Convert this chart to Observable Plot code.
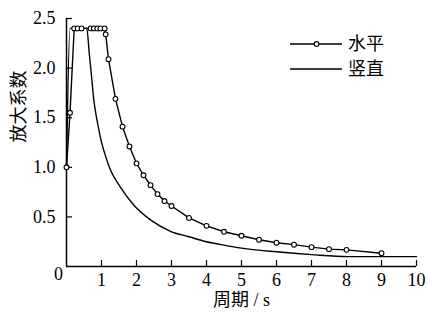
<!DOCTYPE html>
<html><head><meta charset="utf-8">
<script src="https://cdn.jsdelivr.net/npm/d3@7"></script>
<script src="https://cdn.jsdelivr.net/npm/@observablehq/plot@0.6"></script>
<style>
body{margin:0;background:#fff}
#wrap{position:relative;width:428px;height:317px}
#legend{position:absolute;left:286px;top:30px}
#wrap svg, #wrap svg g, #wrap svg text {
  font-family: "Liberation Serif", "Noto Sans CJK SC", serif !important;
  font-size: 18px !important;
}
</style>
</head><body><div id="wrap"><div id="legend"></div></div>
<script>
// 水平 (horizontal) series: period (s) and amplification factor
const horizT = [0, 0.1, 0.22, 0.32, 0.43, 0.69, 0.78, 0.88, 0.97, 1.09, 1.12, 1.2, 1.4, 1.6, 1.8, 2.0, 2.2, 2.4, 2.6, 2.8, 3.0, 3.5, 4.0, 4.5, 5.0, 5.5, 6.0, 6.5, 7.0, 7.5, 8.0, 9.0];
const horizA = [1.0, 1.55, 2.4, 2.4, 2.4, 2.4, 2.4, 2.4, 2.4, 2.4, 2.34, 2.09, 1.69, 1.41, 1.21, 1.04, 0.92, 0.82, 0.73, 0.66, 0.61, 0.49, 0.41, 0.35, 0.31, 0.27, 0.24, 0.22, 0.195, 0.175, 0.168, 0.134];
// 竖直 (vertical) series
const vertT = [0, 0.1, 0.58, 0.65, 0.72, 0.78, 0.88, 0.97, 1.1, 1.26, 1.54, 1.92, 2.4, 2.97, 3.5, 4.0, 4.5, 5.0, 6.0, 7.0, 8.04, 9.0, 10.0];
const vertA = [1.0, 2.4, 2.4, 2.15, 1.9, 1.68, 1.46, 1.3, 1.13, 0.97, 0.8, 0.62, 0.47, 0.355, 0.30, 0.25, 0.215, 0.185, 0.148, 0.12, 0.10, 0.10, 0.10];

const xTicks = [1, 2, 3, 4, 5, 6, 7, 8, 9, 10];
const yTicks = [0.5, 1.0, 1.5, 2.0, 2.5];
const xLabel = "周期 / s";
const yLabel = "放大系数";
const seriesNames = ["水平", "竖直"];

const horiz = horizT.map((t, i) => ({t, a: horizA[i]}));
const vert = vertT.map((t, i) => ({t, a: vertA[i]}));

const chart = Plot.plot({
  width: 428,
  height: 317,
  marginLeft: 66,
  marginRight: 12,
  marginTop: 18,
  marginBottom: 51,
  x: {domain: [0, 10]},
  y: {domain: [0, 2.5]},
  style: {color: "#000", background: "#fff", overflow: "visible"},
  marks: [
    Plot.ruleX([0], {y1: 0, y2: 2.5, stroke: "#000", strokeWidth: 1.5}),
    Plot.ruleY([0], {x1: 0, x2: 10, stroke: "#000", strokeWidth: 1.5}),
    Plot.ruleX(xTicks, {x: d => d, y1: 0, y2: 0, insetTop: -6, stroke: "#000", strokeWidth: 1.2}),
    Plot.ruleY(yTicks, {y: d => d, x1: 0, x2: 0, insetRight: -6, stroke: "#000", strokeWidth: 1.2}),
    Plot.axisX(xTicks, {tickSize: 0, tickPadding: 7, label: null}),
    Plot.axisY(yTicks, {tickSize: 0, tickPadding: 11, label: null, tickFormat: d => d.toFixed(1)}),
    Plot.text([0], {x: 0, y: 0, text: d => String(d), dx: -8, dy: 8}),
    Plot.text([xLabel], {frameAnchor: "bottom", dy: 39}),
    Plot.text([yLabel], {frameAnchor: "left", dx: -47, rotate: -90}),
    Plot.line(vert, {x: "t", y: "a", stroke: "#000", strokeWidth: 1.4, curve: "monotone-x"}),
    Plot.line(horiz, {x: "t", y: "a", stroke: "#000", strokeWidth: 1.4}),
    Plot.dot(horiz, {x: "t", y: "a", r: 2.4, fill: "#fff", stroke: "#000", strokeWidth: 1.1})
  ]
});
document.getElementById("wrap").prepend(chart);

// legend
const lg = d3.select("#legend").append("svg").attr("width", 120).attr("height", 50);
seriesNames.forEach((name, i) => {
  const y = 14 + i * 25;
  lg.append("line").attr("x1", 4).attr("x2", 56).attr("y1", y).attr("y2", y)
    .attr("stroke", "#000").attr("stroke-width", 1.4);
  if (i === 0) lg.append("circle").attr("cx", 30.5).attr("cy", y).attr("r", 2.4)
    .attr("fill", "#fff").attr("stroke", "#000").attr("stroke-width", 1.1);
  lg.append("text").attr("x", 62).attr("y", y).attr("dy", "0.35em").text(name);
});
</script>
</body></html>
